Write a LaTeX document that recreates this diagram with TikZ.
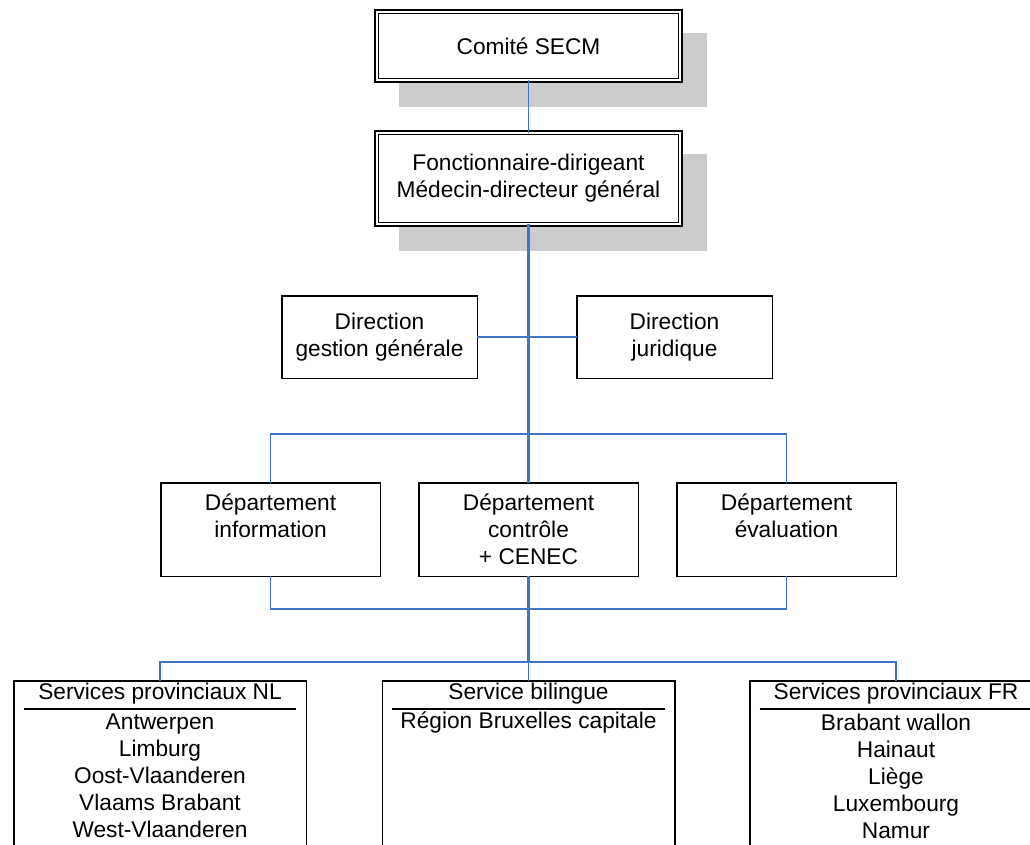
\documentclass[tikz,border=0pt]{standalone}
\usepackage{fontspec}
\setmainfont{Liberation Sans}
\usetikzlibrary{calc,backgrounds}
\definecolor{linkblue}{RGB}{68,114,196}
\definecolor{shadowgray}{RGB}{204,204,204}
\begin{document}
\begin{tikzpicture}[x=1pt,y=-1pt,
  every node/.style={font=\fontsize{22.7}{27}\selectfont, inner sep=0pt, outer sep=0pt},
  dblbox/.style={draw=black, line width=1.6pt, double=white, double distance=2.2pt, fill=white, rectangle, align=center},
  plainbox/.style={draw=black, line width=1.5pt, fill=white, rectangle},
  txt/.style={align=center},
  link/.style={draw=linkblue, line width=1.7pt},
  trunk/.style={draw=linkblue, line width=2.5pt},
  rulestyle/.style={draw=black, line width=1.8pt}]
\useasboundingbox (0,0) rectangle (1030,844);
\clip (0,0) rectangle (1030,844);

% top boxes
\node[dblbox, minimum width=303.6pt, minimum height=68.6pt] (comite) at (528.5,46) {Comité SECM};
\node[dblbox, minimum width=303.6pt, minimum height=91.6pt] (fonct) at (528.5,178.5) {Fonctionnaire-dirigeant\\Médecin-directeur général};
\begin{scope}[on background layer]
  \fill[shadowgray] ($(comite.north west)+(22.3,21.3)$) rectangle ($(comite.south east)+(26.7,26.7)$);
  \fill[shadowgray] ($(fonct.north west)+(22.3,21.3)$) rectangle ($(fonct.south east)+(26.7,26.7)$);
\end{scope}

% directions
\node[plainbox, txt, minimum width=195.5pt, minimum height=82.5pt] (dgg) at (379.5,337) {Direction\\gestion générale};
\node[plainbox, txt, minimum width=195.5pt, minimum height=82.5pt] (djur) at (674.5,337) {Direction\\juridique};

% departments
\node[plainbox, minimum width=219.5pt, minimum height=93.5pt] (info) at (270.5,529.5) {};
\node[plainbox, minimum width=219.5pt, minimum height=93.5pt] (control) at (528.5,529.5) {};
\node[plainbox, minimum width=219.5pt, minimum height=93.5pt] (eval) at (786.5,529.5) {};
\node[txt] (tinfo) at (270.5,515.5) {Département\\information};
\node[txt] (tcontrol) at (528.5,529) {Département\\contrôle\\+ CENEC};
\node[txt] (teval) at (786.5,515.5) {Département\\évaluation};

% services
\node[plainbox, minimum width=292.5pt, minimum height=300pt, anchor=north] (nl) at (160,680.75) {};
\node[plainbox, minimum width=292.5pt, minimum height=300pt, anchor=north] (bil) at (528.5,680.75) {};
\node[plainbox, minimum width=292.5pt, minimum height=300pt, anchor=north] (fr) at (896,680.75) {};
\node (nlh) at (160,694) {Services provinciaux NL};
\node (bilh) at (528.5,694) {Service bilingue};
\node (frh) at (896,694) {Services provinciaux FR};
\draw[rulestyle] ($(nl.north west)+(10,28)$) -- ($(nl.north east)+(-10,28)$);
\draw[rulestyle] ($(bil.north west)+(10,28)$) -- ($(bil.north east)+(-10,28)$);
\draw[rulestyle] ($(fr.north west)+(10,28)$) -- ($(fr.north east)+(-10,28)$);
\node[txt] (nll) at (160,776) {Antwerpen\\Limburg\\Oost-Vlaanderen\\Vlaams Brabant\\West-Vlaanderen};
\node[txt] (bill) at (528.5,722) {Région Bruxelles capitale};
\node[txt] (frl) at (896,776) {Brabant wallon\\Hainaut\\Liège\\Luxembourg\\Namur};

% connectors
\coordinate (bus1) at (528.5,434);
\coordinate (bus2) at (528.5,609);
\coordinate (bus3) at (528.5,662);
\draw[link] (comite.south) -- (fonct.north);
\draw[link] (dgg.east) -- (djur.west);
\draw[link] (info.north) |- (bus1) -| (eval.north);
\draw[link] (info.south) |- (bus2) -| (eval.south);
\draw[link] (nl.north) |- (bus3) -| (fr.north);
\draw[link] (bus3) -- (bil.north);
\draw[trunk] (fonct.south) -- (control.north);
\draw[trunk] (control.south) -- (bus3);
\end{tikzpicture}
\end{document}
